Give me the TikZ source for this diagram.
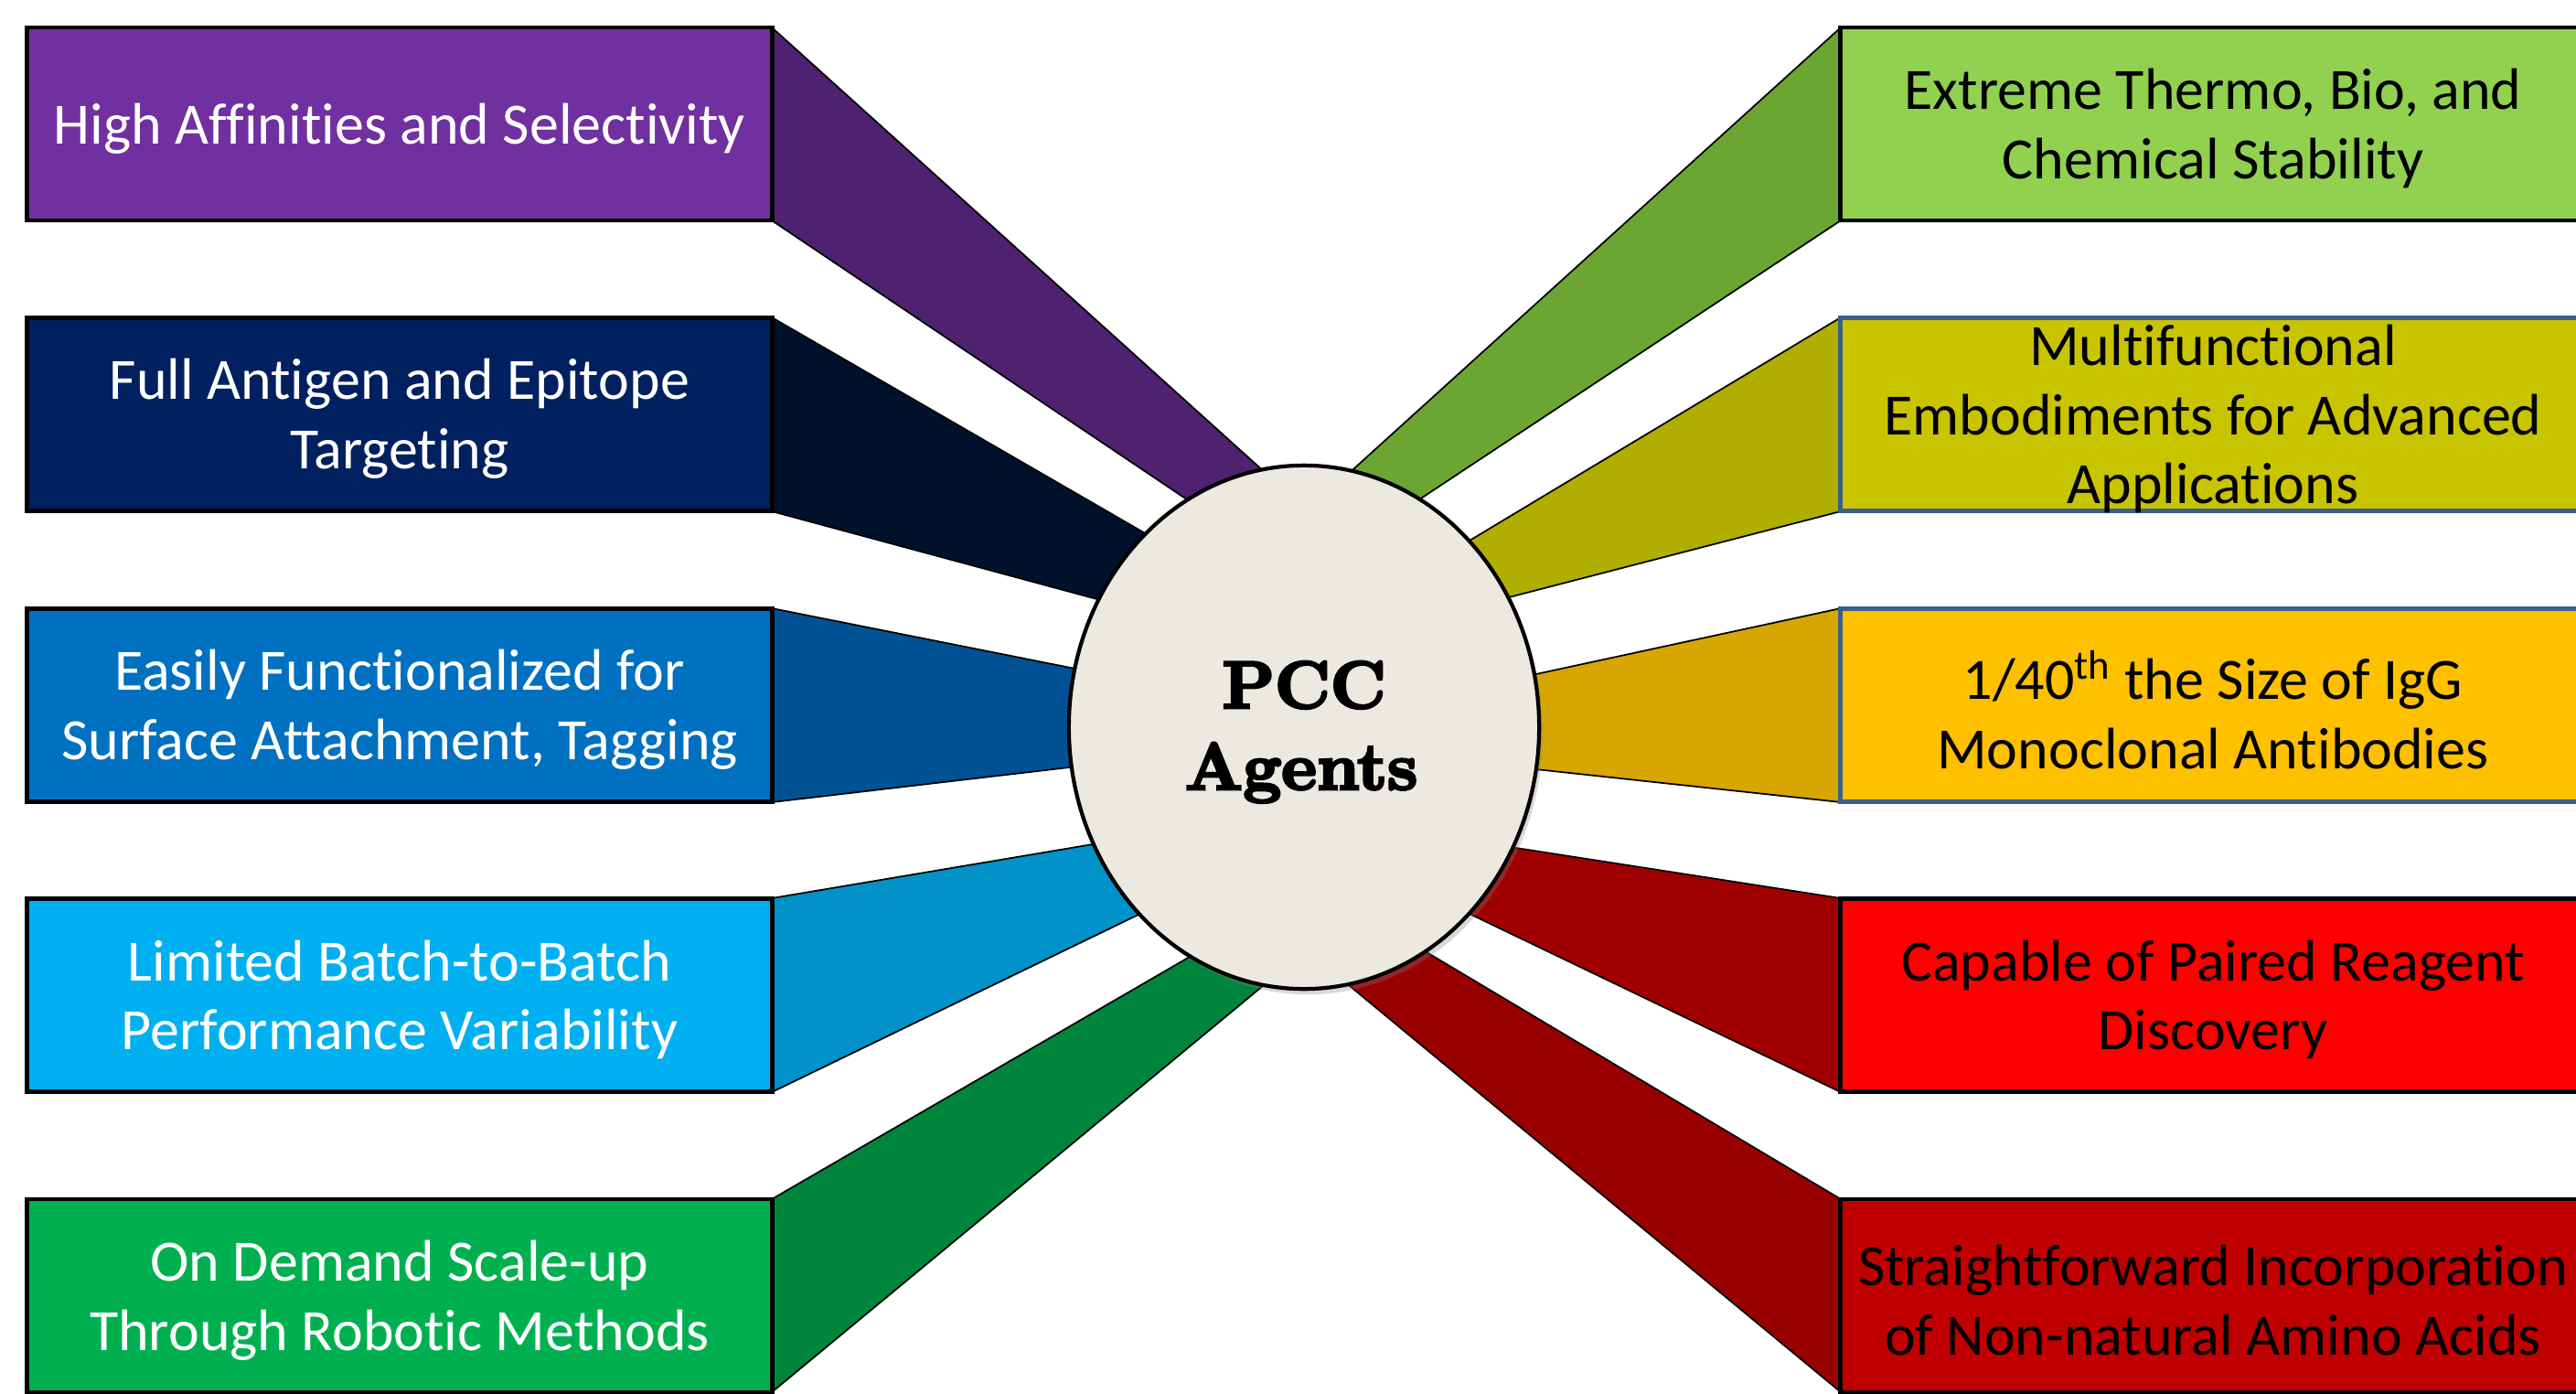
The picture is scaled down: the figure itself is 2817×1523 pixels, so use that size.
\documentclass[tikz,border=0pt]{standalone}
\usepackage{fontspec}
\newfontfamily\boxfont{Carlito}[Ligatures=NoCommon]
\newfontfamily\pccfont{lmroman10-bold}[Extension=.otf, FakeBold=4]
\usetikzlibrary{shapes.geometric,shadows,calc}
\definecolor{purpleBox}{HTML}{7030A0}\definecolor{purpleW}{HTML}{4E2270}
\definecolor{navyBox}{HTML}{002060}\definecolor{navyW}{HTML}{00112B}
\definecolor{blueBox}{HTML}{0070C0}\definecolor{blueW}{HTML}{005294}
\definecolor{lblueBox}{HTML}{00B0F0}\definecolor{lblueW}{HTML}{0092C8}
\definecolor{greenBox}{HTML}{00B050}\definecolor{greenW}{HTML}{00853D}
\definecolor{rgreenBox}{HTML}{92D050}\definecolor{rgreenW}{HTML}{6CA632}
\definecolor{oliveBox}{HTML}{C9C400}\definecolor{oliveW}{HTML}{B0AE00}
\definecolor{goldBox}{HTML}{FFC000}\definecolor{goldW}{HTML}{D8A600}
\definecolor{redBox}{HTML}{FF0000}\definecolor{redW}{HTML}{A00000}
\definecolor{dredBox}{HTML}{C00000}\definecolor{dredW}{HTML}{990000}
\definecolor{circFill}{HTML}{ECEAE0}
\definecolor{bordBlue}{HTML}{3A5F8B}
\tikzset{
  itembox/.style={draw=black, line width=1.3pt, minimum width=8.14cm, minimum height=2.11cm, inner sep=0pt, outer sep=0pt},
  bluebox/.style={itembox, draw=bordBlue},
  wedgeline/.style={line width=0.5pt, draw=black},
  ltxt/.style={text=white, font=\boxfont\fontsize{18.2pt}{21.5pt}\selectfont, align=center, inner sep=0pt},
  rtxt/.style={ltxt, text=black},
  pcc/.style={font=\pccfont\fontsize{20.8pt}{25.3pt}\selectfont, inner sep=0pt, anchor=base}
}
\begin{document}
\begin{tikzpicture}[x=0.01cm,y=-0.01cm]
\useasboundingbox (0,0) rectangle (2817,1523);
\fill[white] (0,0) rectangle (2817,1523);

% box frames (positions)
\path
  coordinate (L1nw) at (30,30)     coordinate (L1se) at (844,241)
  coordinate (L2nw) at (30,347)    coordinate (L2se) at (844,559)
  coordinate (L3nw) at (30,665)    coordinate (L3se) at (844,877)
  coordinate (L4nw) at (30,982)    coordinate (L4se) at (844,1194)
  coordinate (L5nw) at (30,1311)   coordinate (L5se) at (844,1522)
  coordinate (R1nw) at (2013,30)   coordinate (R1se) at (2827,241)
  coordinate (R2nw) at (2013,347)  coordinate (R2se) at (2827,559)
  coordinate (R3nw) at (2013,665)  coordinate (R3se) at (2827,877)
  coordinate (R4nw) at (2013,982)  coordinate (R4se) at (2827,1194)
  coordinate (R5nw) at (2013,1311) coordinate (R5se) at (2827,1522);

% inner ends of the wedges (hidden under the circle)
\path
  coordinate (a1) at (1420,549.6) coordinate (b1) at (1420,628.1)
  coordinate (a2) at (1420,680.0) coordinate (b2) at (1420,714.5)
  coordinate (a3) at (1420,779.6) coordinate (b3) at (1420,809.6)
  coordinate (a4) at (1420,885.2) coordinate (b4) at (1420,915.2)
  coordinate (a5) at (1420,977.0) coordinate (b5) at (1420,1045.6)
  coordinate (c1) at (1432,556.4) coordinate (d1) at (1432,625.6)
  coordinate (c2) at (1432,696.2) coordinate (d2) at (1432,709.5)
  coordinate (c3) at (1432,790.5) coordinate (d3) at (1432,814.3)
  coordinate (c4) at (1432,892.0) coordinate (d4) at (1432,915.0)
  coordinate (c5) at (1432,964.7) coordinate (d5) at (1432,1041.5);

% left wedges
\foreach \i/\c/\t/\b in {1/purpleW/30/241, 2/navyW/347/559, 3/blueW/665/877, 4/lblueW/982/1194, 5/greenW/1311/1522}{
  \fill[\c] (844,\t) -- (a\i) -- (b\i) -- (844,\b) -- cycle;
  \draw[wedgeline] (844,\t) -- (a\i);
  \draw[wedgeline] (844,\b) -- (b\i);
}
% right wedges
\foreach \i/\c/\t/\b in {1/rgreenW/30/241, 2/oliveW/347/559, 3/goldW/665/877, 4/redW/982/1194, 5/dredW/1311/1522}{
  \fill[\c] (2013,\t) -- (c\i) -- (d\i) -- (2013,\b) -- cycle;
  \draw[wedgeline] (2013,\t) -- (c\i);
  \draw[wedgeline] (2013,\b) -- (d\i);
}

% boxes
\node[itembox, fill=purpleBox] (L1) at ($(L1nw)!0.5!(L1se)$) {};
\node[itembox, fill=navyBox]   (L2) at ($(L2nw)!0.5!(L2se)$) {};
\node[itembox, fill=blueBox]   (L3) at ($(L3nw)!0.5!(L3se)$) {};
\node[itembox, fill=lblueBox]  (L4) at ($(L4nw)!0.5!(L4se)$) {};
\node[itembox, fill=greenBox]  (L5) at ($(L5nw)!0.5!(L5se)$) {};
\node[itembox, fill=rgreenBox] (R1) at ($(R1nw)!0.5!(R1se)$) {};
\node[bluebox, fill=oliveBox]  (R2) at ($(R2nw)!0.5!(R2se)$) {};
\node[bluebox, fill=goldBox]   (R3) at ($(R3nw)!0.5!(R3se)$) {};
\node[itembox, fill=redBox]    (R4) at ($(R4nw)!0.5!(R4se)$) {};
\node[itembox, fill=dredBox]   (R5) at ($(R5nw)!0.5!(R5se)$) {};

% centre
\node[ellipse, draw=black, line width=1.2pt, fill=circFill, minimum width=5.14cm, minimum height=5.72cm, inner sep=0pt,
      drop shadow={opacity=0.3, shadow xshift=0.04cm, shadow yshift=-0.06cm}] (C) at (1426,795) {};
\node[pcc] (P1) at (1426,774) {PCC};
\node[pcc] (P2) at (1423,863) {Agents};

% texts
\node[ltxt] (tL1) at ([yshift=-0.05cm]L1.center) {High Affinities and Selectivity};
\node[ltxt] (tL2) at ([yshift=-0.05cm]L2.center) {Full Antigen and Epitope\\Targeting};
\node[ltxt] (tL3) at ([yshift=-0.05cm]L3.center) {Easily Functionalized for\\Surface Attachment, Tagging};
\node[ltxt] (tL4) at ([yshift=-0.05cm]L4.center) {Limited Batch-to-Batch\\Performance Variability};
\node[ltxt] (tL5) at ([yshift=-0.05cm]L5.center) {On Demand Scale-up\\Through Robotic Methods};
\node[rtxt] (tR1) at ([yshift=-0.05cm]R1.center) {Extreme Thermo, Bio, and\\Chemical Stability};
\node[rtxt] (tR2) at ([yshift=-0.05cm]R2.center) {Multifunctional\\Embodiments for Advanced\\Applications};
\node[rtxt] (tR3) at ([yshift=-0.05cm]R3.center) {1/40\textsuperscript{th} the Size of IgG\\Monoclonal Antibodies};
\node[rtxt] (tR4) at ([yshift=-0.05cm]R4.center) {Capable of Paired Reagent\\Discovery};
\node[rtxt] (tR5) at ([yshift=-0.05cm]R5.center) {Straightforward Incorporation\\of Non-natural Amino Acids};
\end{tikzpicture}
\end{document}
